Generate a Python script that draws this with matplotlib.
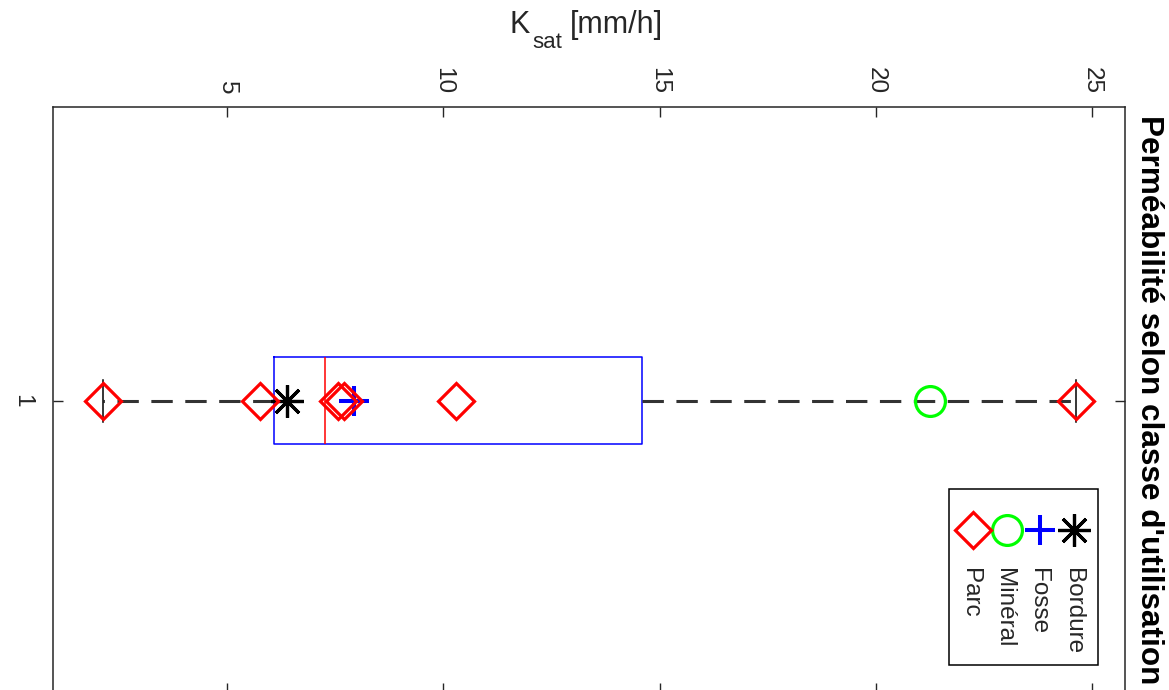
import matplotlib.pyplot as plt
from matplotlib.patches import Rectangle
from matplotlib.lines import Line2D

plt.rcParams['font.family'] = ['Liberation Sans', 'DejaVu Sans']

# ------------------------------------------------------------
# values
# ------------------------------------------------------------
x_ticks = [5, 10, 15, 20, 25]
group_ticks = [1]
group_labels = ['1']

# box statistics (drawn explicitly)
box_whislo = 2.12
box_q1 = 6.08
box_med = 7.25
box_q3 = 14.60
box_whishi = 24.63

# Ksat values per class
bordure = [6.38]
fosse = [7.93]
mineral = [21.26]
parc = [2.12, 5.76, 7.57, 7.70, 10.29, 24.63]

legend_labels = ['Bordure', 'Fosse', 'Minéral', 'Parc']
title = "Perméabilité selon classe d'utilisation"

# ------------------------------------------------------------
# styles
# ------------------------------------------------------------
styles = [
    dict(marker=(8, 2, 0), color='k', ms=23.5, mew=2.3),
    dict(marker='+', color='#0000ff', ms=22, mew=2.9),
    dict(marker='o', color='#00ff00', mfc='none', ms=21.5, mew=2.3),
    dict(marker='D', color='#ff0000', mfc='none', ms=18.5, mew=2.3),
]
ink = '#262626'

W, H = 1169, 690
fig = plt.figure(figsize=(W / 100, H / 100), dpi=100)

# axes box in pixels: left 53.3, right 1125, top 106.7, bottom ~693
ax = fig.add_axes([53.3 / W, -3 / H, (1125 - 53.3) / W, (693 - 106.7) / H])

stats = [dict(whislo=box_whislo, q1=box_q1, med=box_med, q3=box_q3,
              whishi=box_whishi, fliers=[])]
ax.bxp(stats, positions=group_ticks, widths=0.5, capwidths=0.24,
       orientation='horizontal', showfliers=False,
       boxprops=dict(color='#0000ff', lw=1.1),
       medianprops=dict(color='#ff0000', lw=1.1),
       whiskerprops=dict(color='#333333', lw=2.2, linestyle=(0, (7, 4.1))),
       capprops=dict(color='k', lw=1.1))

for vals, st in zip([bordure, fosse, mineral, parc], styles):
    ax.plot(vals, [group_ticks[0]] * len(vals), ls='none', zorder=4, **st)

ax.set_xlim(0.974, 25.77)
ax.set_ylim(2.674, -0.684)

ax.set_xticks(x_ticks)
ax.set_yticks(group_ticks, group_labels)
ax.tick_params(direction='in', length=7, width=1, color=ink,
               labelsize=17.5, labelcolor=ink,
               top=True, bottom=True, left=True, right=True,
               labeltop=True, labelbottom=False)
ax.tick_params(axis='x', labelrotation=-90, pad=9)
ax.tick_params(axis='y', labelrotation=-90, pad=14.4)
for lab in ax.get_yticklabels():
    lab.set_va('center')
for s in ax.spines.values():
    s.set_color(ink)
    s.set_linewidth(1.1)

# value axis label  K_sat [mm/h]
fig.text(509 / W, 1 - 33 / H, 'K', fontsize=22, color=ink, ha='left', va='baseline')
fig.text(532 / W, 1 - 48 / H, 'sat', fontsize=16, color=ink, ha='left', va='baseline')
fig.text(570 / W, 1 - 33 / H, '[mm/h]', fontsize=22, color=ink, ha='left', va='baseline')

# title on the right, reading downwards
fig.text(1141 / W, 1 - 115 / H, title, fontsize=22.7, fontweight='bold',
         rotation=-90, rotation_mode='anchor', ha='left', va='baseline')

# legend (rotated along with the figure)
fig.add_artist(Rectangle((949 / W, 1 - 665 / H), (1097.7 - 949) / W, (665 - 489.3) / H,
                         transform=fig.transFigure, facecolor='white',
                         edgecolor='k', lw=1.1))
marker_x = [1074, 1040, 1006.7, 972.7]
text_x = [1067, 1032.5, 998, 963.5]
for lab, st, mx, tx in zip(legend_labels, styles, marker_x, text_x):
    fig.add_artist(Line2D([mx / W], [1 - 530 / H], transform=fig.transFigure,
                          ls='none', **st))
    fig.text(tx / W, 1 - 568 / H, lab, fontsize=17.5, color=ink,
             rotation=-90, rotation_mode='anchor', ha='left', va='baseline')

fig.savefig('out.png', dpi=100)
